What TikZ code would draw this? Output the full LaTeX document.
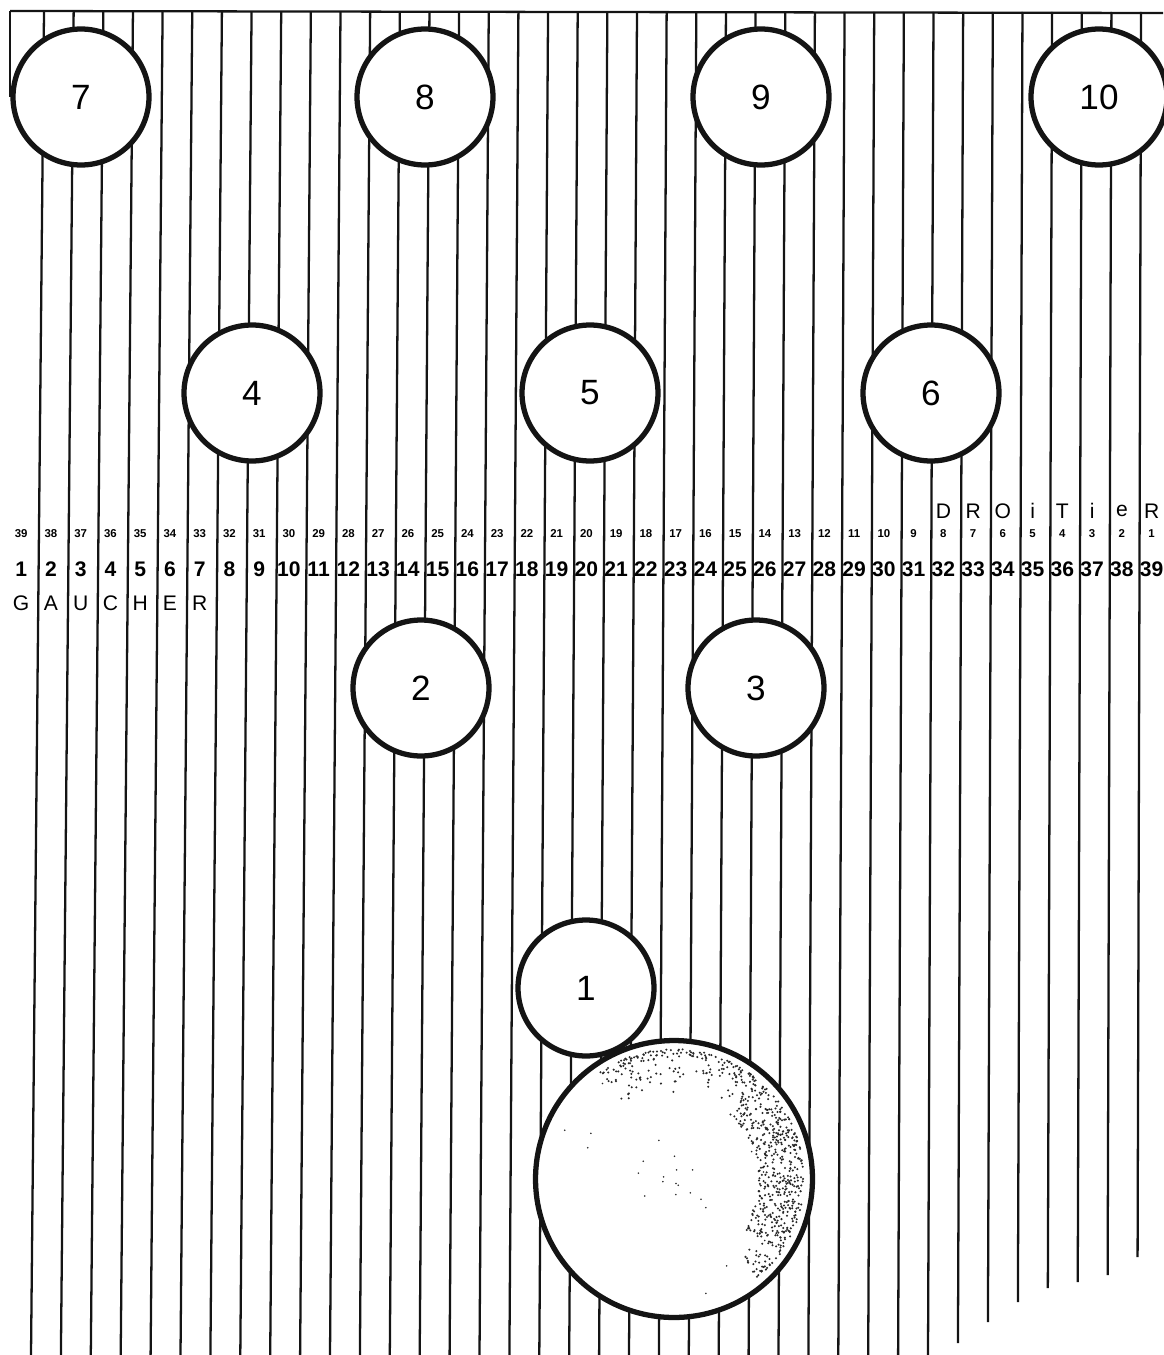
\documentclass[tikz,border=0pt]{standalone}
\usepackage{fontspec}
\setmainfont{Liberation Sans}
\usetikzlibrary{calc}
\definecolor{inkblack}{RGB}{20, 20, 20}
\definecolor{stipple}{RGB}{40, 40, 40}

\tikzset{
  board/.style={line width=1.3pt, inkblack},
  pin/.style={circle, draw=inkblack, line width=3pt, fill=white,
    minimum size=2.72cm, inner sep=0pt, font=\fontsize{20}{24}\selectfont},
  bowlball/.style={circle, draw=inkblack, line width=3pt, fill=white,
    minimum size=5.54cm, inner sep=0pt},
  boardnum/.style={inner sep=0pt, font=\fontsize{6.5}{7}\selectfont\bfseries},
  boardidx/.style={inner sep=0pt, font=\fontsize{12}{14}\selectfont\bfseries},
  handletter/.style={inner sep=0pt, font=\fontsize{12}{14}\selectfont}
}

\begin{document}
\begin{tikzpicture}[x=0.02cm, y=-0.02cm]
  \useasboundingbox (0,0) rectangle (1163,1355);
  % The lane - foul line at the top
  \draw[board] (10,11) -- (1163,13);
  \draw[board] (10,11) -- (10,97);
  % Boards - the separating lines
  \foreach \k in {1,...,31}
    \draw[board] ({44+(\k-1)*29.65},12) -- ({31+(\k-1)*29.9},1355);
  % Boards cut short on the right
  \foreach \k/\yend in {32/1343, 33/1322, 34/1302, 35/1288, 36/1282, 37/1275, 38/1257}
    \draw[board] ({44+(\k-1)*29.65},12) -- ({44+(\k-1)*29.65-(13-(\k-1)*0.25)*(\yend-12)/1343},\yend);
  % Board numbers - both ways
  \foreach \b in {1,...,39} {
    \pgfmathtruncatemacro{\rev}{40-\b}
    \node[boardnum] (rev-\b) at ({36+(\b-1.5)*29.75},534) {\rev};
    \node[boardidx] (idx-\b) at ({36+(\b-1.5)*29.75},569) {\b};
  }
  % Left and right handers
  \foreach \l [count=\b] in {G,A,U,C,H,E,R}
    \node[handletter] (gau-\b) at ({36+(\b-1.5)*29.75},603) {\l};
  \foreach \l [count=\b from 32] in {D,R,O,i,T,i,e,R}
    \node[handletter] (dro-\b) at ({36+(\b-1.5)*29.75},511) {\l};
  % The pins
  \node[pin] (p7) at (81,97) {7};
  \node[pin] (p8) at (425,97) {8};
  \node[pin] (p9) at (761,97) {9};
  \node[pin] (p10) at (1099,97) {10};
  \node[pin] (p4) at (252,393) {4};
  \node[pin] (p5) at (590,393) {5};
  \node[pin] (p6) at (931,393) {6};
  \node[pin] (p2) at (421,688) {2};
  \node[pin] (p3) at (756,688) {3};
  \node[pin] (p1) at (586,988) {1};
  % The ball - stippled rim
  \node[bowlball] (ball) at (674,1179) {};
  \pgfmathsetseed{42}
  \foreach \i in {1,...,420} {
    \pgfmathsetmacro{\ang}{-125+175*rnd}
    \pgfmathsetmacro{\rad}{130-45*rnd*rnd}
    \fill[stipple] ($(ball.center)+(\ang:\rad)$) circle (0.65pt);
  }
  \foreach \i in {1,...,300} {
    \pgfmathsetmacro{\ang}{-50+85*rnd}
    \pgfmathsetmacro{\rad}{130-45*rnd}
    \fill[stipple] ($(ball.center)+(\ang:\rad)$) circle (0.65pt);
  }
  \foreach \i in {1,...,25} {
    \pgfmathsetmacro{\ang}{360*rnd}
    \pgfmathsetmacro{\rad}{125*rnd}
    \fill[stipple] ($(ball.center)+(\ang:\rad)$) circle (0.5pt);
  }
\end{tikzpicture}
\end{document}
